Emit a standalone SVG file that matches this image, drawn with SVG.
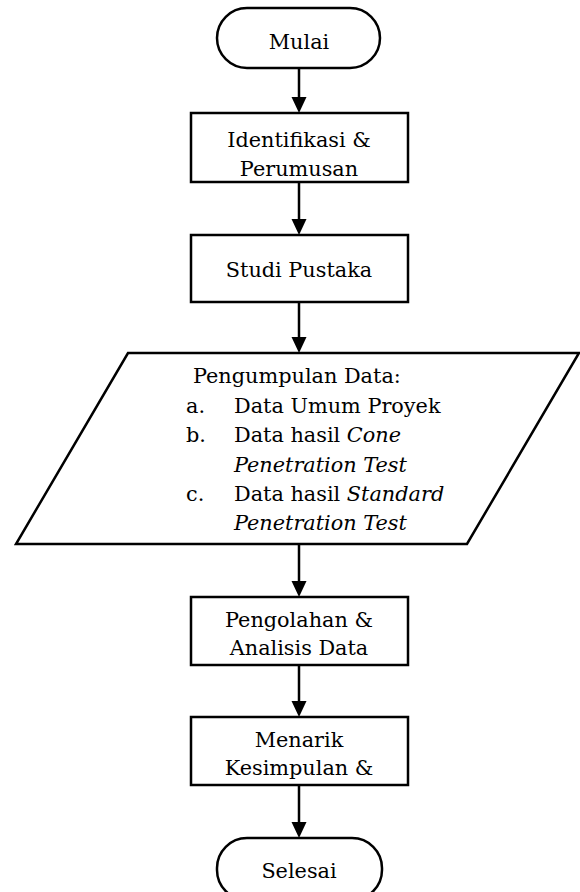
<svg xmlns="http://www.w3.org/2000/svg" width="580" height="892" viewBox="0 0 580 892">
<defs>
<style>
.s{fill:#fff;stroke:#000;stroke-width:2.5}
.t{font-family:"DejaVu Serif","Liberation Serif",serif;font-size:20.8px;fill:#000}
.c{text-anchor:middle}
.i{font-style:italic}
.l{stroke:#000;stroke-width:2.5;fill:none}
.h{fill:#000}
</style>
</defs>
<g id="connectors">
<line class="l" x1="299" y1="68" x2="299" y2="100"/><polygon class="h" points="291.5,97 306.5,97 299,113"/>
<line class="l" x1="299" y1="182" x2="299" y2="222"/><polygon class="h" points="291.5,219 306.5,219 299,235"/>
<line class="l" x1="299" y1="302" x2="299" y2="340"/><polygon class="h" points="291.5,337 306.5,337 299,353"/>
<line class="l" x1="299" y1="544" x2="299" y2="584"/><polygon class="h" points="291.5,581 306.5,581 299,597"/>
<line class="l" x1="299" y1="665" x2="299" y2="704"/><polygon class="h" points="291.5,701 306.5,701 299,717"/>
<line class="l" x1="299" y1="785" x2="299" y2="825"/><polygon class="h" points="291.5,822 306.5,822 299,838"/>
</g>
<g id="mulai">
<rect class="s" x="217" y="8" width="163" height="60" rx="30" ry="30"/>
<text class="t c" x="299" y="49">Mulai</text>
</g>
<g id="identifikasi">
<rect class="s" x="191" y="113" width="217" height="69"/>
<text class="t c" x="299" y="147">Identifikasi &amp;</text>
<text class="t c" x="299" y="176">Perumusan</text>
</g>
<g id="studi">
<rect class="s" x="191" y="235" width="217" height="67"/>
<text class="t c" x="299" y="277">Studi Pustaka</text>
</g>
<g id="pengumpulan">
<polygon class="s" points="128,353 579,353 467,544 16,544"/>
<text class="t" x="193" y="383">Pengumpulan Data:</text>
<text class="t" x="186" y="413">a.</text>
<text class="t" x="234" y="413">Data Umum Proyek</text>
<text class="t" x="186" y="442">b.</text>
<text class="t" x="234" y="442">Data hasil <tspan class="i">Cone</tspan></text>
<text class="t i" x="234" y="472">Penetration Test</text>
<text class="t" x="186" y="501">c.</text>
<text class="t" x="234" y="501">Data hasil <tspan class="i">Standard</tspan></text>
<text class="t i" x="234" y="530">Penetration Test</text>
</g>
<g id="pengolahan">
<rect class="s" x="191" y="597" width="217" height="68"/>
<text class="t c" x="299" y="627">Pengolahan &amp;</text>
<text class="t c" x="299" y="655">Analisis Data</text>
</g>
<g id="menarik">
<rect class="s" x="191" y="717" width="217" height="68"/>
<text class="t c" x="299" y="747">Menarik</text>
<text class="t c" x="299" y="775">Kesimpulan &amp;</text>
</g>
<g id="selesai">
<rect class="s" x="217" y="838" width="165" height="62" rx="30" ry="30"/>
<text class="t c" x="299" y="878">Selesai</text>
</g>
</svg>
